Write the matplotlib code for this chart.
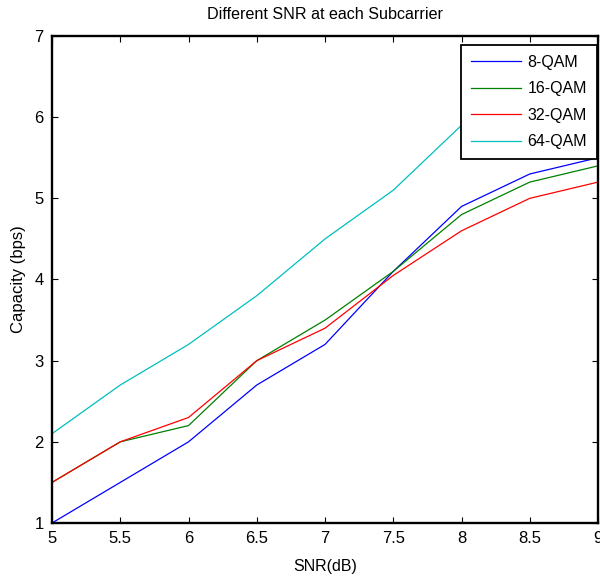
import matplotlib
matplotlib.use("Agg")
import matplotlib.pyplot as plt

plt.rcParams['font.family'] = ['Liberation Sans', 'DejaVu Sans']

snr = [5, 5.5, 6, 6.5, 7, 7.5, 8, 8.5, 9]
qam8 = [1.0, 1.5, 2.0, 2.7, 3.2, 4.1, 4.9, 5.3, 5.5]
qam16 = [1.5, 2.0, 2.2, 3.0, 3.5, 4.1, 4.8, 5.2, 5.4]
qam32 = [1.5, 2.0, 2.3, 3.0, 3.4, 4.05, 4.6, 5.0, 5.2]
qam64 = [2.1, 2.7, 3.2, 3.8, 4.5, 5.1, 5.9, 6.4, 6.8]
labels = ['8-QAM', '16-QAM', '32-QAM', '64-QAM']
colors = ['#0000ff', '#008000', '#ff0000', '#00bfbf']
xticks = [5, 5.5, 6, 6.5, 7, 7.5, 8, 8.5, 9]
yticks = [1, 2, 3, 4, 5, 6, 7]

fig = plt.figure(figsize=(6.0, 5.77), dpi=100)
ax = fig.add_axes([0.0867, 0.0936, 0.91, 0.844])

for ys, lab, c in zip([qam8, qam16, qam32, qam64], labels, colors):
    ax.plot(snr, ys, color=c, linewidth=0.9, label=lab)

ax.set_xlim(5, 9)
ax.set_ylim(1, 7)
ax.set_xticks(xticks)
ax.set_xticklabels(['5', '5.5', '6', '6.5', '7', '7.5', '8', '8.5', '9'])
ax.set_yticks(yticks)
ax.tick_params(direction='in', length=4, width=0.8, top=True, right=True,
               labelsize=12, pad=6)
for s in ax.spines.values():
    s.set_linewidth(1.7)

ax.set_title('Different SNR at each Subcarrier', fontsize=11.6, pad=12)
ax.set_xlabel('SNR(dB)', fontsize=11.5, labelpad=9)
ax.set_ylabel('Capacity (bps)', fontsize=12, labelpad=6)

leg = ax.legend(loc='upper right', bbox_to_anchor=(0.998, 0.9815), fontsize=11.5,
                fancybox=False, framealpha=1, edgecolor='black',
                handlelength=3.1, borderaxespad=0, labelspacing=0.72,
                handletextpad=0.45, borderpad=0.6)
leg.get_frame().set_linewidth(1.3)

fig.savefig('out.png', dpi=100, facecolor='white')
